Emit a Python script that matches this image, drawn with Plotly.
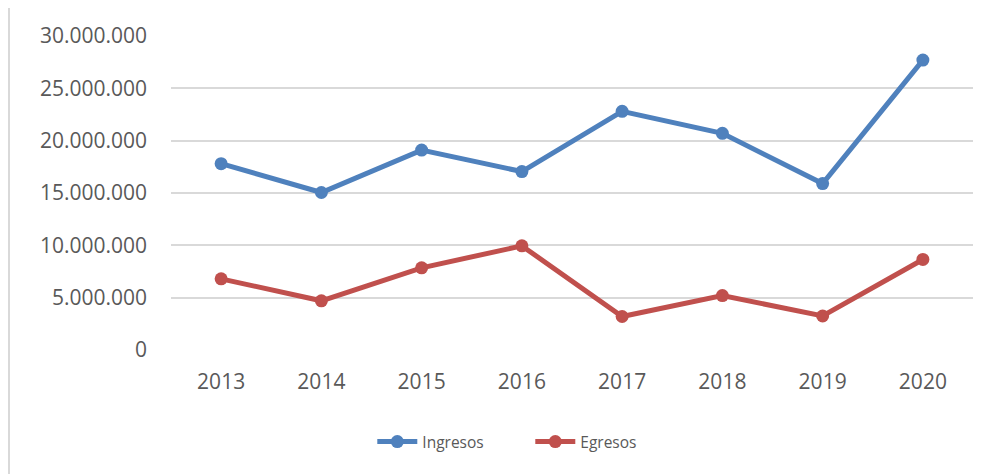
import plotly.graph_objects as go

years = ["2013", "2014", "2015", "2016", "2017", "2018", "2019", "2020"]
ingresos = [17800000, 15050000, 19100000, 17050000, 22800000, 20700000, 15900000, 27700000]
egresos = [6800000, 4700000, 7850000, 9950000, 3200000, 5200000, 3250000, 8650000]

blue = "#4F81BD"
red = "#C0504D"
txt = "#595959"
grid = "#D9D9D9"

fig = go.Figure()
fig.add_trace(go.Scatter(x=years, y=ingresos, name="Ingresos", mode="lines+markers",
                         line=dict(color=blue, width=5), marker=dict(size=13, color=blue)))
fig.add_trace(go.Scatter(x=years, y=egresos, name="Egresos", mode="lines+markers",
                         line=dict(color=red, width=5), marker=dict(size=13, color=red)))

fig.update_layout(
    width=985, height=474,
    margin=dict(l=163, r=20, t=28, b=132),
    paper_bgcolor="white", plot_bgcolor="white",
    separators=",.",
    font=dict(family="Open Sans", color=txt, size=21),
    legend=dict(orientation="h", x=0.448, xanchor="center", y=-0.293, yanchor="middle",
                font=dict(size=15.5, color=txt), itemwidth=40, entrywidth=103,
                tracegroupgap=0),
    showlegend=True,
)
fig.update_xaxes(type="category", range=[-0.5, 7.5], showgrid=False, zeroline=False,
                 showline=False, ticks="", ticklabelstandoff=17, tickfont=dict(size=21))
fig.update_yaxes(range=[0, 30000000], dtick=5000000, tickformat=",d", showgrid=True,
                 gridcolor=grid, gridwidth=2, zeroline=False, showline=False, ticks="",
                 ticklabelstandoff=23, tickfont=dict(size=21))
fig.add_shape(type="line", xref="paper", yref="paper", x0=-0.202, x1=-0.202, y0=1.092, y1=-0.45,
              line=dict(color=grid, width=2))

fig.write_html("out.html")
